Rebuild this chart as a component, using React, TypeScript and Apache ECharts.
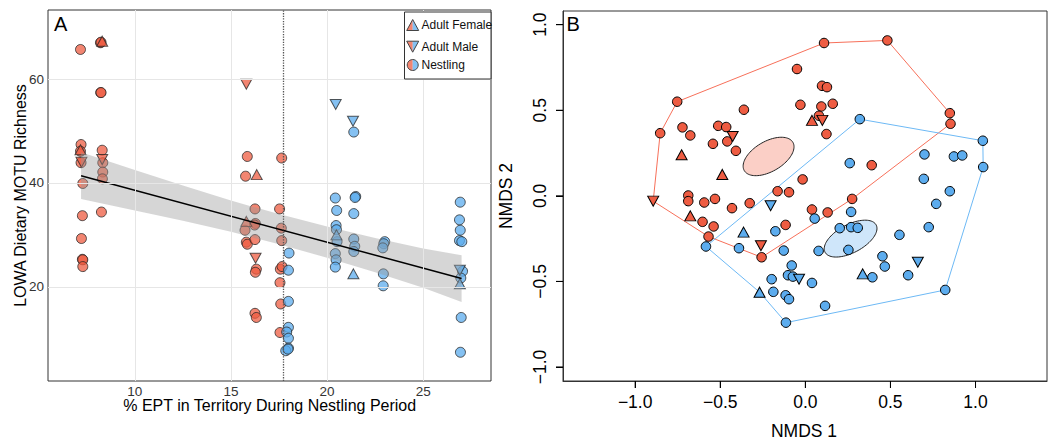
import { useEffect, useRef } from 'react';
import * as echarts from 'echarts';

const FONT = '"Liberation Sans", Arial, Helvetica, sans-serif';
const RED = '#EE5C42';
const BLUE = '#5CACEE';

// ---------- Panel A data ----------
const xTicksA = [10, 15, 20, 25];
const yTicksA = [20, 40, 60];
const nestlingPeriodCut = 17.74;

const aNestRed = [
  [7.17, 65.7], [7.2, 47.4], [7.17, 46.1], [7.2, 43.9], [7.29, 39.9], [7.27, 33.7], [7.22, 29.3], [7.27, 25.3], [7.29, 25.2], [7.29, 23.9],
  [8.21, 67.0], [8.24, 67.1], [8.22, 57.4], [8.24, 57.4], [8.3, 46.3], [8.33, 43.9], [8.33, 42.1], [8.31, 40.8], [8.26, 34.4],
  [15.85, 45.1], [15.76, 41.3], [16.25, 35.0], [15.73, 30.9], [16.27, 32.2], [16.23, 31.9], [15.8, 28.6], [15.85, 28.2], [16.25, 29.1], [16.32, 23.4], [16.27, 22.8], [16.25, 14.9], [16.32, 14.1],
  [17.64, 44.8], [17.53, 35.0], [17.62, 31.3], [17.64, 28.9], [17.57, 23.4], [17.66, 23.9], [17.55, 20.8], [17.59, 16.7], [17.55, 11.2],
];
const aFemRed = [[7.17, 46.4], [8.3, 67.3], [16.34, 41.6], [15.8, 32.6]];
const aMaleRed = [[7.22, 44.0], [8.3, 44.5], [15.8, 59.0], [16.28, 25.5]];

const aNestBlue = [
  [18.02, 26.5], [17.99, 23.2], [17.99, 17.2], [17.99, 12.2], [17.9, 11.3], [17.99, 10.1], [17.99, 8.2], [17.85, 7.7], [17.97, 8.0],
  [20.43, 37.1], [20.5, 34.7], [20.47, 31.8], [20.49, 31.0], [20.52, 28.7], [20.43, 26.4], [20.47, 25.2], [20.43, 23.8],
  [21.39, 49.8], [21.49, 37.4], [21.46, 37.2], [21.39, 34.1], [21.39, 29.2], [21.44, 27.8], [21.39, 26.8],
  [23.0, 28.7], [22.95, 28.3], [22.9, 27.5], [22.93, 22.5], [22.92, 20.2],
  [26.93, 36.3], [26.89, 32.9], [26.93, 30.9], [26.89, 28.9], [27.01, 28.7], [27.05, 23.0], [26.96, 21.7], [26.98, 14.1], [26.94, 7.4],
];
const aFemBlue = [[20.49, 30.0], [21.37, 22.5], [26.91, 20.6]];
const aMaleBlue = [[20.45, 55.1], [21.35, 51.9], [26.91, 23.2]];

const regLine = [[7.2, 41.4], [27, 21.6]];
const bandX = [7.2, 10, 12.5, 15, 17.5, 20, 22.5, 25, 27];
const bandHi = [45.9, 42.5, 39.5, 36.6, 34.0, 31.6, 29.4, 27.4, 26.1];
const bandLo = [36.9, 34.7, 32.7, 30.6, 28.2, 25.6, 22.8, 19.8, 17.1];

// ---------- Panel B data ----------
const ticksB = [-1, -0.5, 0, 0.5, 1];
const X_MIN_B = -1.424;
const X_MAX_B = 1.42;
const Y_MIN_B = -1.082;
const Y_MAX_B = 1.08;

const bNestRed = [
  [0.11, 0.893], [0.482, 0.908], [-0.049, 0.741], [0.098, 0.643], [0.127, 0.635], [-0.029, 0.532], [0.094, 0.522], [0.161, 0.538],
  [0.08, 0.468], [0.124, 0.361], [0.849, 0.483], [0.853, 0.421], [-0.753, 0.55], [-0.361, 0.503], [-0.853, 0.366], [-0.722, 0.4],
  [-0.676, 0.353], [-0.512, 0.409], [-0.465, 0.402], [-0.459, 0.318], [-0.543, 0.304], [-0.408, 0.263], [0.39, 0.179], [-0.016, 0.096],
  [-0.163, 0.027], [-0.096, 0.021], [-0.688, 0.002], [-0.688, -0.031], [-0.594, -0.039], [-0.531, -0.018], [-0.431, -0.072], [-0.327, -0.043],
  [-0.604, -0.152], [-0.539, -0.179], [-0.569, -0.238], [-0.116, -0.17], [0.275, -0.018], [0.039, -0.08], [0.131, -0.097], [-0.257, -0.359],
];
const bFemRed = [[0.039, 0.441], [-0.727, 0.24], [-0.488, 0.125], [-0.676, -0.117]];
const bMaleRed = [[0.1, 0.441], [-0.427, 0.347], [-0.894, -0.031], [-0.261, -0.292]];

const bNestBlue = [
  [0.32, 0.448], [1.043, 0.322], [1.045, 0.168], [0.7, 0.242], [0.873, 0.23], [0.922, 0.236], [0.261, 0.191], [0.696, 0.099],
  [0.849, 0.027], [0.769, -0.047], [0.725, -0.183], [0.553, -0.228], [0.269, -0.094], [0.055, -0.133], [0.202, -0.189], [0.269, -0.183],
  [0.308, -0.187], [0.078, -0.322], [0.253, -0.316], [0.453, -0.353], [0.467, -0.413], [0.394, -0.476], [0.604, -0.464], [0.822, -0.55],
  [-0.114, -0.741], [0.116, -0.643], [-0.584, -0.296], [-0.176, -0.207], [-0.39, -0.306], [-0.127, -0.32], [-0.08, -0.407], [-0.102, -0.464],
  [-0.073, -0.472], [0.039, -0.509], [-0.198, -0.487], [-0.188, -0.561], [-0.116, -0.581], [-0.096, -0.604],
];
const bFemBlue = [[0.337, -0.456], [-0.363, -0.212], [-0.269, -0.563]];
const bMaleBlue = [[0.661, -0.388], [-0.204, -0.058], [-0.037, -0.487]];

const redHull = [
  [0.482, 0.908], [0.849, 0.483], [0.853, 0.421], [0.275, -0.018], [-0.257, -0.359], [-0.569, -0.238],
  [-0.894, -0.031], [-0.853, 0.366], [-0.753, 0.55], [0.11, 0.893], [0.482, 0.908],
];
const blueHull = [
  [0.32, 0.448], [1.043, 0.322], [1.045, 0.168], [0.822, -0.55], [-0.114, -0.741], [-0.269, -0.563], [-0.584, -0.296], [0.32, 0.448],
];
// center x, center y, semi-axis a, semi-axis b, angle (deg)
const ellipses = [
  [-0.216, 0.23, 0.165, 0.088, 30],
  [0.266, -0.25, 0.17, 0.082, 28],
];
const ellipseFill = ['#FBCFC6', '#CFE6FA'];

const TRI_DOWN = 'path://M0,0L2,0L1,1.732Z';

const fmtB = (v: number) => (v < 0 ? '\u2212' + Math.abs(v).toFixed(1) : v.toFixed(1));

function scatterA(data: number[][], color: string, symbol: string, size: any) {
  return {
    type: 'scatter', xAxisIndex: 0, yAxisIndex: 0, data, symbol, symbolSize: size, z: 2,
    itemStyle: { color, borderColor: '#222', borderWidth: 1, opacity: 0.75 },
  };
}
function scatterB(data: number[][], color: string, symbol: string, size: any) {
  return {
    type: 'scatter', xAxisIndex: 1, yAxisIndex: 1, data, symbol, symbolSize: size, z: 5,
    itemStyle: { color, borderColor: '#000', borderWidth: 1, opacity: 1 },
  };
}

export default function App() {
  const ref = useRef<HTMLDivElement>(null);
  useEffect(() => {
    const chart = echarts.init(ref.current!, null, { renderer: 'svg' });
    const labelA = { fontFamily: FONT, fontSize: 13.5, color: '#333' };
    const labelB = { fontFamily: FONT, fontSize: 17.5, color: '#000' };
    const legendItems = ['Adult Female', 'Adult Male', 'Nestling'];
    const legendY = [25, 46.7, 65];
    const lx = 412.7;
    const redA = 'rgba(238,92,66,0.75)';
    const blueA = 'rgba(92,172,238,0.75)';
    const tickB = { show: true, inside: false, length: 7, lineStyle: { color: '#000', width: 1 }, customValues: ticksB };
    const graphic: any[] = [
      { type: 'text', x: 54, y: 23.8, z: 100, style: { text: 'A', fontFamily: FONT, fontSize: 20, fill: '#000', align: 'left', verticalAlign: 'middle' } },
      { type: 'text', x: 566.5, y: 24, z: 100, style: { text: 'B', fontFamily: FONT, fontSize: 20, fill: '#000', align: 'left', verticalAlign: 'middle' } },
      { type: 'text', x: 20, y: 195.5, rotation: Math.PI / 2, z: 100, style: { text: 'LOWA Dietary MOTU Richness', fontFamily: FONT, fontSize: 16, fill: '#000', align: 'center', verticalAlign: 'middle' } },
      { type: 'text', x: 269.7, y: 405, z: 100, style: { text: '% EPT in Territory During Nestling Period', fontFamily: FONT, fontSize: 16, fill: '#000', align: 'center', verticalAlign: 'middle' } },
      { type: 'text', x: 804, y: 431, z: 100, style: { text: 'NMDS 1', fontFamily: FONT, fontSize: 17.5, fill: '#000', align: 'center', verticalAlign: 'middle' } },
      { type: 'text', x: 506, y: 196, rotation: Math.PI / 2, z: 100, style: { text: 'NMDS 2', fontFamily: FONT, fontSize: 17.5, fill: '#000', align: 'center', verticalAlign: 'middle' } },
      { type: 'rect', z: 100, shape: { x: 404.5, y: 12, width: 86.5, height: 67 }, style: { fill: '#fff', stroke: '#333', lineWidth: 1 } },
      { type: 'polygon', z: 101, shape: { points: [[lx - 6, legendY[0] + 5.5], [lx, legendY[0] - 5.5], [lx, legendY[0] + 5.5]] }, style: { fill: redA } },
      { type: 'polygon', z: 101, shape: { points: [[lx, legendY[0] - 5.5], [lx + 6, legendY[0] + 5.5], [lx, legendY[0] + 5.5]] }, style: { fill: blueA } },
      { type: 'polygon', z: 102, shape: { points: [[lx - 6, legendY[0] + 5.5], [lx, legendY[0] - 5.5], [lx + 6, legendY[0] + 5.5]] }, style: { fill: 'none', stroke: '#444', lineWidth: 1 } },
      { type: 'polygon', z: 101, shape: { points: [[lx - 6, legendY[1] - 5.5], [lx, legendY[1] + 5.5], [lx, legendY[1] - 5.5]] }, style: { fill: redA } },
      { type: 'polygon', z: 101, shape: { points: [[lx, legendY[1] - 5.5], [lx + 6, legendY[1] - 5.5], [lx, legendY[1] + 5.5]] }, style: { fill: blueA } },
      { type: 'polygon', z: 102, shape: { points: [[lx - 6, legendY[1] - 5.5], [lx + 6, legendY[1] - 5.5], [lx, legendY[1] + 5.5]] }, style: { fill: 'none', stroke: '#444', lineWidth: 1 } },
      { type: 'sector', z: 101, shape: { cx: lx, cy: legendY[2], r: 5.5, r0: 0, startAngle: Math.PI / 2, endAngle: (3 * Math.PI) / 2, clockwise: true }, style: { fill: redA } },
      { type: 'sector', z: 101, shape: { cx: lx, cy: legendY[2], r: 5.5, r0: 0, startAngle: -Math.PI / 2, endAngle: Math.PI / 2, clockwise: true }, style: { fill: blueA } },
      { type: 'circle', z: 102, shape: { cx: lx, cy: legendY[2], r: 5.5 }, style: { fill: 'none', stroke: '#444', lineWidth: 1 } },
      ...legendItems.map((t, i) => ({
        type: 'text', x: 421.5, y: legendY[i], z: 102,
        style: { text: t, fontFamily: FONT, fontSize: 12, fill: '#111', align: 'left', verticalAlign: 'middle' },
      })),
    ];
    const option: any = {
      animation: false,
      backgroundColor: '#fff',
      grid: [
        { left: 48, top: 10, width: 443, height: 371, show: true, borderColor: '#333', borderWidth: 1, backgroundColor: 'transparent' },
        { left: 563, top: 11, width: 484, height: 370, show: true, borderColor: '#333', borderWidth: 1, backgroundColor: 'transparent' },
      ],
      xAxis: [
        {
          type: 'value', gridIndex: 0, min: 5.48, max: 28.53,
          axisLine: { show: false, onZero: false }, axisTick: { show: false }, splitLine: { show: false },
          axisLabel: { ...labelA, margin: 3, customValues: xTicksA },
        },
        {
          type: 'value', gridIndex: 1, min: X_MIN_B, max: X_MAX_B, position: 'bottom',
          axisLine: { show: true, onZero: false, lineStyle: { color: '#333', width: 1 } }, splitLine: { show: false }, axisTick: tickB,
          axisLabel: { ...labelB, margin: 12, formatter: fmtB, customValues: ticksB },
        },
      ],
      yAxis: [
        {
          type: 'value', gridIndex: 0, min: 1.87, max: 73.3,
          axisLine: { show: false, onZero: false }, axisTick: { show: false }, splitLine: { show: false },
          axisLabel: { ...labelA, margin: 4, customValues: yTicksA },
        },
        {
          type: 'value', gridIndex: 1, min: Y_MIN_B, max: Y_MAX_B, position: 'left',
          axisLine: { show: true, onZero: false, lineStyle: { color: '#333', width: 1 } }, splitLine: { show: false }, axisTick: tickB,
          axisLabel: { ...labelB, margin: 14, rotate: 90, formatter: fmtB, customValues: ticksB },
        },
      ],
      series: [
        {
          type: 'scatter', xAxisIndex: 0, yAxisIndex: 0, data: [], z: 1, silent: true,
          markLine: {
            silent: true, symbol: ['none', 'none'], label: { show: false },
            lineStyle: { color: '#e6e6e6', type: 'solid', width: 1 },
            emphasis: { disabled: true },
            data: [
              ...xTicksA.map((v) => ({ xAxis: v })),
              ...yTicksA.map((v) => ({ yAxis: v })),
              { xAxis: nestlingPeriodCut, lineStyle: { color: '#555', type: 'dotted', width: 1.3 } },
            ],
          },
        },
        scatterA(aNestRed, RED, 'circle', 10),
        scatterA(aFemRed, RED, 'triangle', [11, 10]),
        scatterA(aMaleRed, RED, TRI_DOWN, [11, 10]),
        scatterA(aNestBlue, BLUE, 'circle', 10),
        scatterA(aFemBlue, BLUE, 'triangle', [11, 10]),
        scatterA(aMaleBlue, BLUE, TRI_DOWN, [11, 10]),
        {
          type: 'custom', xAxisIndex: 0, yAxisIndex: 0, z: 3, silent: true,
          data: [[bandX[0], bandLo[0]]],
          encode: { x: 0, y: 1 },
          renderItem: (_p: any, api: any) => {
            const top = bandX.map((x, i) => api.coord([x, bandHi[i]]));
            const bot = bandX.map((x, i) => api.coord([x, bandLo[i]])).reverse();
            return { type: 'polygon', shape: { points: [...top, ...bot] }, style: { fill: 'rgba(153,153,153,0.4)' } };
          },
        },
        {
          type: 'line', xAxisIndex: 0, yAxisIndex: 0, data: regLine, symbol: 'none', z: 4, silent: true,
          lineStyle: { color: '#000', width: 1.5 },
        },
        // Panel B: outward R-style ticks, positioned through the axes' scales
        {
          type: 'custom', xAxisIndex: 1, yAxisIndex: 1, z: 10, silent: true, clip: false,
          data: ticksB.map((v) => [v, v]),
          encode: { x: 0, y: 1 },
          renderItem: (_p: any, api: any) => {
            const v = api.value(0);
            const bx = api.coord([v, Y_MIN_B]);
            const ly = api.coord([X_MIN_B, v]);
            return {
              type: 'group',
              children: [
                { type: 'rect', shape: { x: bx[0] - 0.5, y: bx[1], width: 1, height: 7 }, style: { fill: '#000' } },
                { type: 'rect', shape: { x: ly[0] - 7, y: ly[1] - 0.5, width: 7, height: 1 }, style: { fill: '#000' } },
              ],
            };
          },
        },
        {
          type: 'line', xAxisIndex: 1, yAxisIndex: 1, data: redHull, symbol: 'none', z: 2, silent: true,
          lineStyle: { color: '#F7705A', width: 1 },
        },
        {
          type: 'line', xAxisIndex: 1, yAxisIndex: 1, data: blueHull, symbol: 'none', z: 2, silent: true,
          lineStyle: { color: '#6DB9F5', width: 1 },
        },
        {
          type: 'custom', xAxisIndex: 1, yAxisIndex: 1, z: 3, silent: true,
          data: ellipses,
          encode: { x: 0, y: 1 },
          renderItem: (p: any, api: any) => {
            const cx = api.value(0), cy = api.value(1), a = api.value(2), b = api.value(3);
            const th = (api.value(4) * Math.PI) / 180;
            const pts: number[][] = [];
            for (let k = 0; k < 90; k++) {
              const t = (k / 90) * Math.PI * 2;
              const dx = a * Math.cos(t), dy = b * Math.sin(t);
              pts.push(api.coord([cx + dx * Math.cos(th) - dy * Math.sin(th), cy + dx * Math.sin(th) + dy * Math.cos(th)]));
            }
            return { type: 'polygon', shape: { points: pts }, style: { fill: ellipseFill[p.dataIndex], stroke: '#222', lineWidth: 1 } };
          },
        },
        scatterB(bNestRed, RED, 'circle', 9.5),
        scatterB(bFemRed, RED, 'triangle', [11, 10]),
        scatterB(bMaleRed, RED, TRI_DOWN, [11, 10]),
        scatterB(bNestBlue, BLUE, 'circle', 9.5),
        scatterB(bFemBlue, BLUE, 'triangle', [11, 10]),
        scatterB(bMaleBlue, BLUE, TRI_DOWN, [11, 10]),
      ],
      graphic,
    };
    chart.setOption(option);
    return () => chart.dispose();
  }, []);
  return <div ref={ref} style={{ position: 'absolute', left: 0, top: 0, width: 1057, height: 440, background: '#fff' }} />;
}
